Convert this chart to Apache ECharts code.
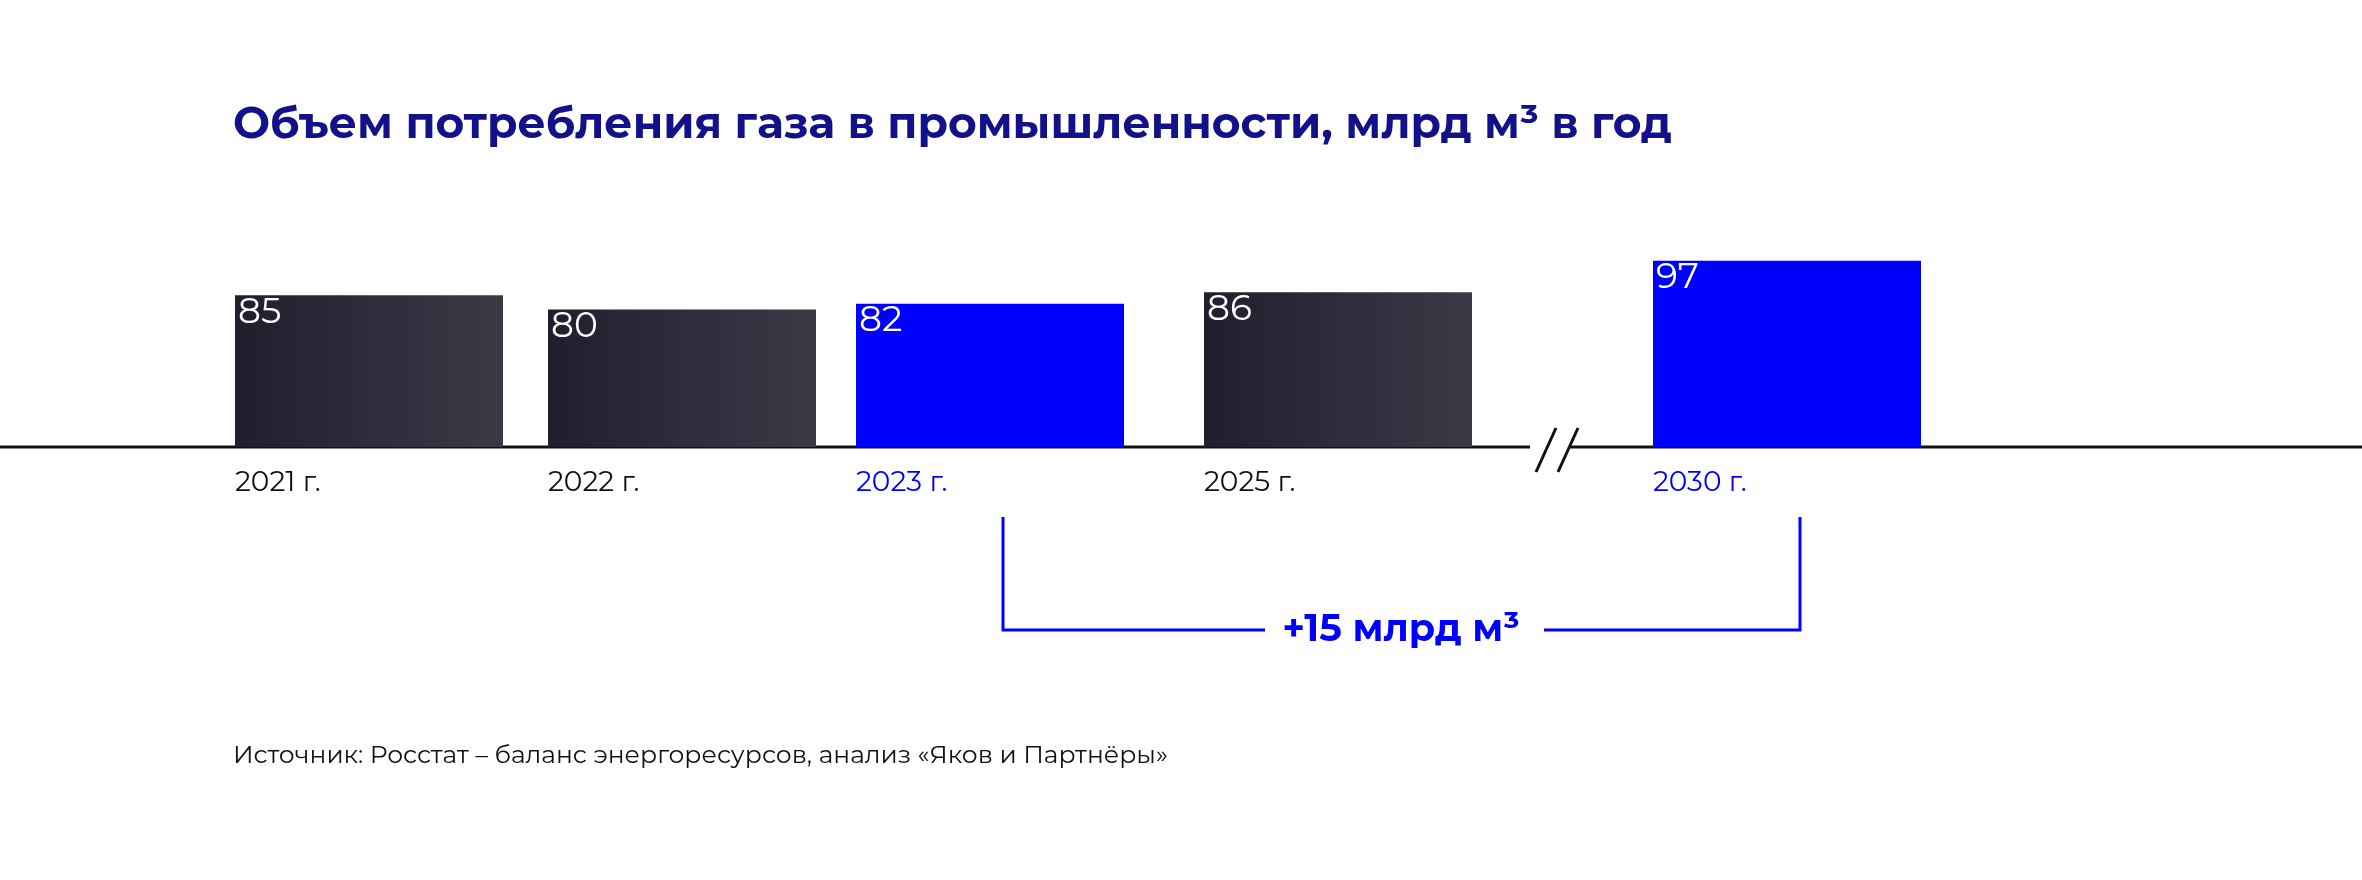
<!DOCTYPE html>
<html><head><meta charset="utf-8">
<script src="https://cdn.jsdelivr.net/npm/echarts@6/dist/echarts.min.js"></script>
<style>html,body{margin:0;padding:0;background:#fff}#c{width:2362px;height:880px}</style>
</head><body><div id="c"></div>
<script>
const years = ['2021 г.', '2022 г.', '2023 г.', '2025 г.', '2030 г.'];
const values = [85, 80, 82, 86, 97];
const highlight = [false, false, true, false, true];
const xPos = [369, 682, 990, 1338, 1787];

const dark = {type:'linear',x:0,y:0,x2:1,y2:0,colorStops:[{offset:0,color:'#211f2e'},{offset:1,color:'#3b3946'}]};
const blue = '#0000ff';
const font = 'Montserrat, "Noto Sans", sans-serif';
const chart = echarts.init(document.getElementById('c'));
chart.setOption({
  backgroundColor:'#fff',
  animation:false,
  title:{text:'Объем потребления газа в промышленности, млрд м³ в год',left:228,top:98,
    textStyle:{color:'#13118a',fontSize:44,fontWeight:'bold',fontFamily:font}},
  grid:{left:0,right:0,top:195,bottom:433},
  xAxis:{type:'value',min:0,max:2362,show:true,axisLine:{show:false},axisTick:{show:false},axisLabel:{show:false},splitLine:{show:false}},
  yAxis:{type:'value',min:32,max:120,show:false},
  series:[
    {type:'bar',barWidth:268,
     data:values.map((v,i)=>({value:[xPos[i],v],itemStyle:{color:highlight[i]?blue:dark}})),
     label:{show:true,position:'insideTopLeft',offset:[-2,-6],color:'#fff',fontSize:36,fontFamily:font,formatter:p=>p.value[1]}},
    {type:'custom',silent:true,
     data:years.map((y,i)=>[xPos[i],32,i]),
     renderItem:(params,api)=>{
       const i=api.value(2); const p=api.coord([api.value(0),api.value(1)]);
       return {type:'text',x:p[0]-134,y:p[1]+22,style:{text:years[i],fill:highlight[i]?blue:'#111',fontSize:28,fontFamily:font}};
     }}
  ],
  graphic:[
    {type:'line',shape:{x1:0,y1:447,x2:2362,y2:447},style:{stroke:'#111',lineWidth:3}},
    {type:'rect',shape:{x:1530,y:430,width:40,height:40},style:{fill:'#fff'}},
    {type:'line',shape:{x1:1536,y1:472,x2:1556,y2:428},style:{stroke:'#111',lineWidth:3}},
    {type:'line',shape:{x1:1558,y1:472,x2:1578,y2:428},style:{stroke:'#111',lineWidth:3}},
    {type:'polyline',shape:{points:[[1265,630],[1003,630],[1003,517]]},style:{stroke:blue,lineWidth:3,fill:null}},
    {type:'polyline',shape:{points:[[1544,630],[1800,630],[1800,517]]},style:{stroke:blue,lineWidth:3,fill:null}},
    {type:'text',x:1401,y:630,style:{text:'+15 млрд м³',fill:blue,fontSize:38,fontWeight:'bold',fontFamily:font,textAlign:'center',textVerticalAlign:'middle'}},
    {type:'text',x:233,y:756,style:{text:'Источник: Росстат – баланс энергоресурсов, анализ «Яков и Партнёры»',fill:'#111',fontSize:25,fontFamily:font,textVerticalAlign:'middle'}}
  ]
});
</script></body></html>
